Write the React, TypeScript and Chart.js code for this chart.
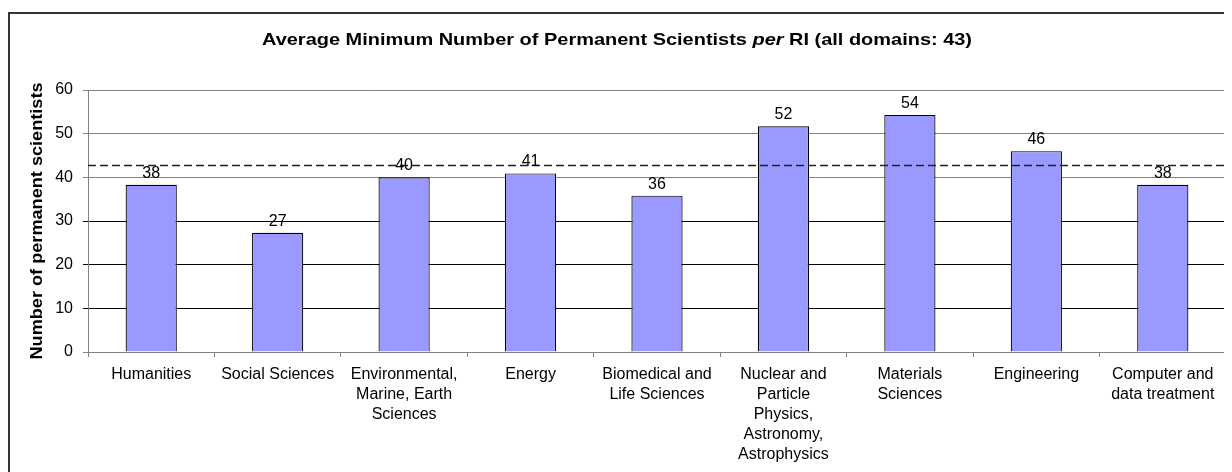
import React, { useEffect, useRef } from "react";
import { Chart, registerables } from "chart.js";

Chart.register(...registerables);

const categories: (string | string[])[] = [
  "Humanities",
  "Social Sciences",
  ["Environmental,", "Marine, Earth", "Sciences"],
  "Energy",
  ["Biomedical and", "Life Sciences"],
  ["Nuclear and", "Particle", "Physics,", "Astronomy,", "Astrophysics"],
  ["Materials", "Sciences"],
  "Engineering",
  ["Computer and", "data treatment"],
];
const values: number[] = [38.3, 27.3, 40.0, 40.9, 35.8, 51.7, 54.3, 46.0, 38.3];
const averageValue = 42.7;
const yTicks: number[] = [0, 10, 20, 30, 40, 50, 60];
const titleParts = [
  { text: "Average Minimum Number of Permanent Scientists ", italic: false },
  { text: "per", italic: true },
  { text: " RI (all domains: 43)", italic: false },
];
const yTitle = "Number of permanent scientists";

const FONT = "'Liberation Sans', Arial, sans-serif";

const decorPlugin = {
  id: "decor",
  afterDatasetsDraw(chart: any) {
    const ctx = chart.ctx;
    const area = chart.chartArea;
    const yScale = chart.scales.y;
    // average dashed line
    const yAvg = yScale.getPixelForValue(averageValue);
    ctx.save();
    ctx.strokeStyle = "#222222";
    ctx.lineWidth = 1.5;
    ctx.setLineDash([8, 4]);
    ctx.beginPath();
    ctx.moveTo(area.left, yAvg);
    ctx.lineTo(area.right, yAvg);
    ctx.stroke();
    ctx.restore();
    // value labels
    const meta = chart.getDatasetMeta(0);
    ctx.save();
    ctx.fillStyle = "#000";
    ctx.font = `16px ${FONT}`;
    ctx.textAlign = "center";
    ctx.textBaseline = "alphabetic";
    meta.data.forEach((bar: any, i: number) => {
      ctx.fillText(String(Math.round(values[i])), bar.x, bar.y - 7);
    });
    ctx.restore();
  },
  afterDraw(chart: any) {
    const ctx = chart.ctx;
    ctx.save();
    // title
    const size = 17;
    const widths = titleParts.map((p) => {
      ctx.font = `${p.italic ? "italic " : ""}bold ${size}px ${FONT}`;
      return ctx.measureText(p.text).width;
    });
    const total = widths.reduce((a, b) => a + b, 0);
    const sx = 710 / total;
    ctx.translate(609, 32);
    ctx.scale(sx, 1);
    let x = -total / 2;
    ctx.fillStyle = "#000";
    ctx.textBaseline = "middle";
    ctx.textAlign = "left";
    titleParts.forEach((p, i) => {
      ctx.font = `${p.italic ? "italic " : ""}bold ${size}px ${FONT}`;
      ctx.fillText(p.text, x, 0);
      x += widths[i];
    });
    ctx.restore();
    // y axis title
    ctx.save();
    const area = chart.chartArea;
    ctx.translate(30, (area.top + area.bottom) / 2);
    ctx.rotate(-Math.PI / 2);
    ctx.font = `bold 16px ${FONT}`;
    const w = ctx.measureText(yTitle).width;
    ctx.scale(277 / w, 1);
    ctx.fillStyle = "#000";
    ctx.textAlign = "center";
    ctx.textBaseline = "middle";
    ctx.fillText(yTitle, 0, 0);
    ctx.restore();
  },
};

export default function App() {
  const ref = useRef<HTMLCanvasElement>(null);
  useEffect(() => {
    if (!ref.current) return;
    Chart.defaults.font.family = FONT;
    Chart.defaults.color = "#000";
    const chart = new Chart(ref.current, {
      type: "bar",
      data: {
        labels: categories as any,
        datasets: [
          {
            data: values,
            backgroundColor: "#9999FF",
            borderColor: "#000000",
            borderWidth: 1.2,
            barPercentage: 0.405,
            categoryPercentage: 1,
          },
        ],
      },
      options: {
        responsive: false,
        animation: false,
        layout: { padding: { top: 82, right: 6, left: 0, bottom: 0 } },
        plugins: {
          legend: { display: false },
          tooltip: { enabled: false },
          title: { display: false },
        },
        scales: {
          x: {
            type: "category",
            offset: true,
            grid: {
              offset: true,
              drawOnChartArea: false,
              drawTicks: true,
              tickLength: 5,
              color: "#808080",
            },
            border: { color: "#808080", width: 1 },
            ticks: {
              font: { size: 16, lineHeight: 1.25 },
              color: "#000",
              padding: 8,
              maxRotation: 0,
              autoSkip: false,
            },
            afterFit: (s: any) => {
              s.height = 120;
            },
          },
          y: {
            min: 0,
            max: 60,
            afterBuildTicks: (s: any) => {
              s.ticks = yTicks.map((v) => ({ value: v }));
            },
            grid: {
              color: (c: any) =>
                c.tick && (c.tick.value >= 40 || c.tick.value === 0) ? "#808080" : "#000",
              tickLength: 5,
              lineWidth: 1,
            },
            border: { color: "#808080", width: 1 },
            ticks: {
              font: { size: 16 },
              color: "#000",
              padding: 10,
            },
            afterFit: (s: any) => {
              s.width = 80;
            },
          },
        },
      },
      plugins: [decorPlugin],
    } as any);
    return () => chart.destroy();
  }, []);

  return (
    <div style={{ position: "relative", width: 1224, height: 464, overflow: "hidden" }}>
      <div
        style={{
          position: "absolute",
          left: 0,
          top: 4,
          width: 1300,
          height: 600,
          border: "2px solid #333",
          boxSizing: "border-box",
        }}
      />
      <canvas
        ref={ref}
        width={1224}
        height={464}
        style={{ position: "absolute", left: 0, top: 0, width: 1224, height: 464 }}
      />
    </div>
  );
}
